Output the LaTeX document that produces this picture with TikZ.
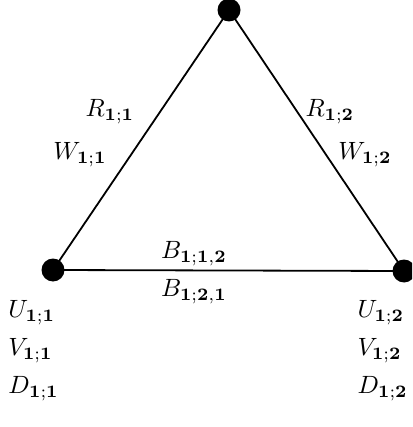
\documentclass[tikz,border=0pt]{standalone}
\usepackage{amsmath}
\begin{document}
\begin{tikzpicture}[x=1pt,y=-1pt,
  dot/.style={circle,fill=black,inner sep=0pt,minimum size=23pt},
  lbl/.style={inner sep=0pt,scale=2.5,transform shape},
  edge/.style={line width=1.8pt}]
\useasboundingbox (0,0) rectangle (412,427);
\begin{scope}
\clip (0,0) rectangle (412,427);
\node[dot] (t) at (229,10) {};
\node[dot] (l) at (53,270) {};
\node[dot] (r) at (404,271) {};
\draw[edge] (t.center) -- (l.center);
\draw[edge] (t.center) -- (r.center);
\draw[edge] (l.center) -- (r.center);
\end{scope}
\node[lbl] (r11) at (110,112) {$R_{\mathbf{1;1}}$};
\node[lbl] (w11) at (80,155) {$W_{\mathbf{1;1}}$};
\node[lbl] (r12) at (330,112) {$R_{\mathbf{1;2}}$};
\node[lbl] (w12) at (365,155) {$W_{\mathbf{1;2}}$};
\node[lbl] (b112) at (194,254) {$B_{\mathbf{1;1,2}}$};
\node[lbl] (b121) at (194,292) {$B_{\mathbf{1;2,1}}$};
\node[lbl,anchor=west] (u11) at (8,313) {$U_{\mathbf{1;1}}$};
\node[lbl,anchor=west] (v11) at (8,351) {$V_{\mathbf{1;1}}$};
\node[lbl,anchor=west] (d11) at (8,389) {$D_{\mathbf{1;1}}$};
\node[lbl,anchor=west] (u12) at (357,313) {$U_{\mathbf{1;2}}$};
\node[lbl,anchor=west] (v12) at (357,351) {$V_{\mathbf{1;2}}$};
\node[lbl,anchor=west] (d12) at (357,389) {$D_{\mathbf{1;2}}$};
\end{tikzpicture}
\end{document}
